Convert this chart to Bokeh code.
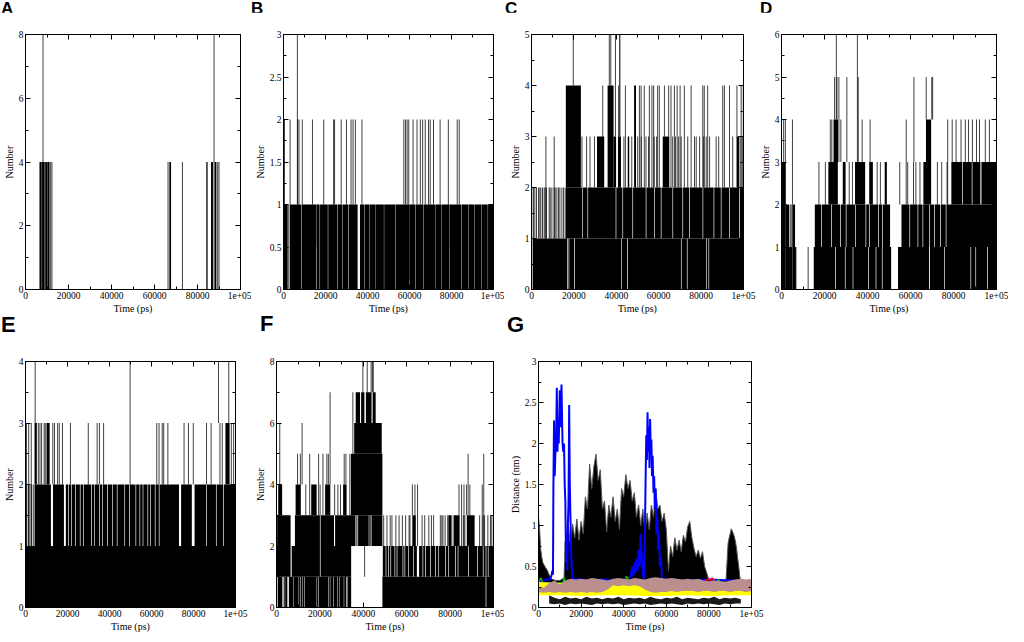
from bokeh.plotting import figure
from bokeh.layouts import column, row
from bokeh.models import Range1d, FixedTicker, LinearAxis, Div
from bokeh.embed import file_html
from bokeh.resources import INLINE

SERIF = "Liberation Serif"
SANS = "Liberation Sans"

# ---------------- shared axis data ----------------
X_TICKS = [0, 20000, 40000, 60000, 80000, 100000]
X_MINOR = [10000, 30000, 50000, 70000, 90000]
X_LABELS = ["0", "20000", "40000", "60000", "80000", "1e+05"]
X_TITLE = "Time (ps)"

Y_TICKS_8 = [0, 2, 4, 6, 8]
Y_MINOR_8 = [1, 3, 5, 7]
Y_TICKS_3 = [0, 0.5, 1, 1.5, 2, 2.5, 3]
Y_MINOR_3 = [0.25, 0.75, 1.25, 1.75, 2.25, 2.75]
Y_LABELS_3 = ["0", "0.5", "1", "1.5", "2", "2.5", "3"]
Y_TICKS_5 = [0, 1, 2, 3, 4, 5]
Y_TICKS_6 = [0, 1, 2, 3, 4, 5, 6]
Y_TICKS_4 = [0, 1, 2, 3, 4]

# ---------------- Panel A : (t_start, t_end, low, high) / (t, low, high) ----------------
A_BLOCKS = [
    (6500, 7300, 0, 4), (7700, 8800, 0, 4), (9200, 10000, 0, 4), (10400, 11200, 0, 4),
    (66900, 67700, 0, 4), (84100, 84700, 0, 4), (86300, 87200, 0, 4), (88000, 88800, 0, 4),
]
A_SPIKES = [
    (7500, 0, 4), (8150, 0, 8), (9000, 0, 4), (10200, 0, 4), (11700, 0, 4), (12300, 0, 4),
    (66300, 0, 4), (73000, 0, 4), (87700, 0, 8), (89400, 0, 4), (90000, 0, 4),
]

# ---------------- Panel B ----------------
B_BLOCKS = [
    (0, 2000, 0, 1), (3000, 8550, 0, 1), (8750, 15600, 0, 1), (15800, 17200, 0, 1),
    (17400, 21100, 0, 1), (21300, 25500, 0, 1), (25700, 27850, 0, 1), (28050, 30850, 0, 1),
    (31050, 35300, 0, 1), (36400, 38400, 0, 1), (38550, 40750, 0, 1), (40900, 43900, 0, 1),
    (44050, 47800, 0, 1), (47950, 53300, 0, 1), (53450, 60050, 0, 1), (60200, 62700, 0, 1),
    (62850, 66650, 0, 1), (66800, 72150, 0, 1), (72300, 75300, 0, 1), (75450, 78900, 0, 1),
    (79050, 84700, 0, 1), (84850, 88150, 0, 1), (88300, 91000, 0, 1), (91150, 94100, 0, 1),
    (94250, 97250, 0, 1), (97400, 100000, 0, 1),
]
B_SPIKES = [
    (2500, 0, 1), (16000, 0.5, 1), (59800, 0.1, 1), (78700, 0.5, 1), (88900, 0.5, 1),
    (470, 1, 2), (3140, 1, 2), (6600, 1, 3), (6750, 1, 2), (7380, 1, 2), (8950, 1, 2),
    (13800, 1, 2), (19150, 1, 2), (23860, 1, 2), (24330, 1, 2), (27470, 1, 2), (29980, 1, 2),
    (32180, 1, 2), (33120, 1, 2), (34220, 1, 2), (37360, 1, 2), (57300, 1, 2), (58090, 1, 2),
    (58870, 1, 2), (59650, 1, 2), (61700, 1, 2), (63580, 1, 2), (65150, 1, 2), (66250, 1, 2),
    (67500, 1, 2), (69070, 1, 2), (69860, 1, 2), (71430, 1, 2), (74570, 1, 2), (78490, 1, 2),
    (82730, 1, 2), (83670, 1, 2),
]

# ---------------- Panel C ----------------
C_BLOCKS = [
    (0, 400, 0, 1), (700, 16800, 0, 1), (17100, 17500, 0, 1), (17800, 20100, 0, 1),
    (20400, 42400, 0, 1), (42700, 45200, 0, 1), (45500, 70500, 0, 1), (70800, 73300, 0, 1),
    (73600, 82300, 0, 1), (82600, 83500, 0, 1), (83800, 100000, 0, 1),
    (16200, 24000, 1, 2), (24300, 26400, 1, 2), (26700, 39700, 1, 2), (40000, 42900, 1, 2),
    (43200, 47600, 1, 2), (47900, 53900, 1, 2), (54200, 57800, 1, 2), (58100, 61000, 1, 2),
    (61300, 66500, 1, 2), (66800, 71200, 1, 2), (71500, 74400, 1, 2), (74700, 80700, 1, 2),
    (81000, 85900, 1, 2), (86200, 89300, 1, 2), (89600, 93300, 1, 2), (93600, 98000, 1, 2),
    (98300, 100000, 1, 2),
    (16200, 23300, 2, 4), (30900, 34300, 2, 3), (35900, 38700, 2, 4), (38700, 39900, 2, 3),
    (40800, 42200, 2, 3), (41400, 41900, 3, 5), (45400, 46100, 2, 3), (48400, 49300, 2, 4),
    (61900, 65000, 2, 3), (96900, 97900, 2, 3),
]
C_SPIKES = [
    (160, 1, 2), (940, 1, 2), (1570, 1, 2), (2360, 1, 2), (3310, 1, 2), (3940, 1, 2),
    (4410, 1, 2), (5200, 1, 2), (5980, 1, 2), (6460, 1, 2), (7090, 1, 2), (8350, 1, 2),
    (8820, 1, 2), (9610, 1, 2), (10710, 1, 2), (11180, 1, 2), (11970, 1, 2), (12760, 1, 2),
    (13390, 1, 2), (14330, 1, 2), (15120, 1, 2), (15910, 1, 2),
    (19700, 4, 5), (36700, 4, 5), (37400, 4, 5), (39600, 3, 5),
    (6800, 1, 3), (10700, 1, 3), (23800, 2, 3), (26000, 2, 3), (27600, 2, 3), (29700, 2, 3),
    (43600, 2, 3), (47300, 2, 3), (50100, 2, 3), (51800, 2, 3), (54000, 2, 3), (55200, 2, 3),
    (57900, 2, 3), (59000, 2, 3), (66600, 2, 3), (67900, 2, 3), (69400, 2, 3), (70600, 2, 3),
    (73700, 2, 3), (76900, 2, 3), (77700, 2, 3), (79300, 2, 3), (81200, 2, 3), (82400, 2, 3),
    (84000, 2, 3), (87100, 2, 3), (88300, 2, 3), (94900, 2, 3), (98400, 2, 3), (99400, 2, 3),
    (33600, 2, 4), (41100, 2, 4), (44300, 2, 4), (50900, 2, 4), (51700, 2, 4), (53200, 2, 4),
    (55600, 2, 4), (56800, 2, 4), (57600, 2, 4), (59500, 2, 4), (60300, 2, 4), (62700, 3, 4),
    (64700, 3, 4), (65800, 2, 4), (67400, 2, 4), (68700, 2, 4), (70100, 2, 4), (72100, 2, 4),
    (75300, 2, 4), (80800, 2, 4), (81500, 2, 4), (83100, 2, 4), (90200, 2, 4), (91000, 2, 4),
    (93400, 2, 4), (96900, 2, 4), (98900, 2, 4), (99900, 2, 4),
]

# ---------------- Panel D ----------------
D_BLOCKS = [
    (0, 2000, 0, 3), (2000, 3500, 0, 2), (3500, 4900, 0, 1), (5000, 6300, 0, 2), (6300, 6900, 0, 1),
    (15000, 24900, 0, 1), (25200, 29500, 0, 1), (29800, 33100, 0, 1), (33400, 40300, 0, 1),
    (40600, 43800, 0, 1), (44100, 46700, 0, 1), (47000, 51000, 0, 1),
    (15500, 18500, 1, 2), (18800, 23100, 1, 2), (23400, 27300, 1, 2), (27600, 29900, 1, 2),
    (30200, 34200, 1, 2), (34500, 39100, 1, 2), (39400, 40800, 1, 2), (41100, 45000, 1, 2),
    (45300, 46800, 1, 2), (47100, 50500, 1, 2),
    (21800, 26200, 2, 3), (28500, 29800, 2, 3), (34200, 38900, 2, 3), (40800, 42500, 2, 3),
    (48000, 49000, 2, 3), (24200, 26300, 3, 4),
    (54200, 68600, 0, 1), (69000, 75600, 0, 1), (75900, 87900, 0, 1), (88200, 90200, 0, 1),
    (90500, 95600, 0, 1), (95900, 100000, 0, 1),
    (55800, 59500, 1, 2), (59800, 63300, 1, 2), (63600, 65600, 1, 2), (65900, 68700, 1, 2),
    (69000, 71000, 1, 2), (71300, 73800, 1, 2), (74100, 76400, 1, 2), (76700, 100000, 1, 2),
    (66000, 67200, 2, 3), (67200, 69600, 2, 4), (79000, 84000, 2, 3), (84300, 88500, 2, 3),
    (88800, 92500, 2, 3), (93000, 100000, 2, 3),
]
D_SPIKES = [
    (1000, 3, 4), (1800, 3, 4), (4000, 1, 2), (4500, 1, 2), (5100, 2, 4), (12400, 0, 1),
    (17400, 2, 3), (20400, 2, 3), (22700, 3, 4), (23400, 3, 4), (24700, 4, 5), (25500, 4, 6),
    (25800, 4, 5), (26700, 3, 5), (27600, 3, 4), (30400, 3, 5), (31500, 2, 3), (33000, 2, 3),
    (35300, 3, 6), (35700, 3, 5), (37500, 3, 4), (41200, 3, 4), (44500, 2, 3), (46000, 2, 3),
    (55000, 2, 3), (58000, 2, 4), (58700, 2, 3), (61400, 2, 3), (61600, 3, 5), (62500, 2, 3),
    (64400, 2, 3), (67300, 4, 5), (69900, 4, 5), (70300, 4, 5), (72500, 2, 3), (74500, 2, 3),
    (77000, 2, 3), (77300, 2, 4), (79400, 3, 4), (81200, 3, 4), (83500, 3, 4), (85500, 3, 4),
    (87000, 3, 4), (88800, 3, 4), (90700, 3, 4), (92100, 3, 4), (94800, 3, 4), (96700, 3, 4),
]

# ---------------- Panel E ----------------
E_BLOCKS = [
    (0, 100000, 0, 1),
    (4300, 12100, 1, 2), (13100, 18300, 1, 2), (19200, 20300, 1, 2), (20600, 21800, 1, 2),
    (22100, 23600, 1, 2), (23900, 25900, 1, 2), (26200, 27500, 1, 2), (27800, 31300, 1, 2),
    (31600, 32800, 1, 2), (33100, 35100, 1, 2), (35400, 36600, 1, 2), (36900, 38900, 1, 2),
    (39200, 41200, 1, 2), (41500, 43500, 1, 2), (43800, 47100, 1, 2), (47400, 49400, 1, 2),
    (49700, 52400, 1, 2), (52700, 54300, 1, 2), (54600, 55800, 1, 2), (56100, 58100, 1, 2),
    (58400, 59300, 1, 2), (59600, 61600, 1, 2), (61900, 63500, 1, 2), (63800, 73100, 1, 2),
    (74100, 79200, 1, 2), (80500, 86000, 1, 2), (86300, 90700, 1, 2), (91000, 94100, 1, 2),
    (94400, 100000, 1, 2),
    (4300, 5400, 2, 3), (10000, 11500, 2, 3), (95200, 97200, 2, 3),
]
E_SPIKES = [
    (600, 1, 2), (1400, 1, 2), (2100, 1, 2), (2900, 1, 2), (3700, 1, 2),
    (460, 1, 3), (1530, 1, 3), (2760, 1, 3), (6130, 2, 3), (6890, 2, 3), (7660, 2, 3),
    (8880, 2, 3), (9400, 2, 3), (13000, 2, 3), (13800, 2, 3), (15300, 2, 3), (16100, 2, 3),
    (17600, 2, 3), (21400, 2, 3), (29900, 2, 3), (34100, 2, 3), (35200, 2, 3), (37200, 2, 3),
    (62500, 2, 3), (63600, 2, 3), (65100, 2, 3), (65800, 2, 3), (67800, 2, 3), (75500, 2, 3),
    (77600, 2, 3), (79900, 2, 3), (86200, 2, 3), (88400, 2, 3), (92600, 2, 3), (93700, 2, 3),
    (98000, 2, 3), (99100, 2, 3),
    (4600, 3, 4), (49800, 2, 4), (91900, 3, 4), (96800, 3, 4),
]

# ---------------- Panel F ----------------
F_BLOCKS = [
    (0, 300, 0, 1), (600, 2700, 0, 1), (3300, 3800, 0, 1), (4000, 5000, 0, 1), (5700, 7600, 0, 1),
    (7800, 10200, 0, 1), (10400, 11000, 0, 1), (11200, 12000, 0, 1), (12200, 12800, 0, 1),
    (13000, 18500, 0, 1), (18700, 19300, 0, 1), (19500, 23800, 0, 1), (24000, 24600, 0, 1),
    (24800, 26100, 0, 1), (26300, 27900, 0, 1), (28100, 28800, 0, 1), (29000, 31000, 0, 1),
    (31200, 32200, 0, 1), (32700, 34400, 0, 1),
    (0, 6500, 1, 2), (7000, 20000, 1, 2), (20300, 34400, 1, 2),
    (300, 6500, 2, 3), (8500, 20000, 2, 3), (20300, 26500, 2, 3), (27000, 34400, 2, 3),
    (800, 2600, 3, 4), (8800, 11200, 3, 4), (16000, 18500, 3, 4), (22400, 24800, 3, 4),
    (30700, 32300, 3, 4),
    (34300, 36200, 2, 3), (37600, 42500, 2, 3), (43800, 48800, 2, 3), (34300, 48800, 3, 5),
    (35800, 48500, 5, 6), (36500, 38500, 6, 7), (39000, 40500, 6, 7), (41200, 43800, 6, 7),
    (44300, 45700, 6, 7),
    (48800, 96400, 0, 1), (96700, 100000, 0, 1),
    (49000, 50300, 1, 2), (50600, 51500, 1, 2), (51800, 52500, 1, 2), (52800, 54400, 1, 2),
    (54700, 55400, 1, 2), (55700, 58100, 1, 2), (58400, 59000, 1, 2), (59300, 60600, 1, 2),
    (60900, 62900, 1, 2), (63200, 64700, 1, 2), (65700, 67300, 1, 2), (67600, 68500, 1, 2),
    (68800, 70800, 1, 2), (71100, 73100, 1, 2), (73400, 74600, 1, 2), (74900, 77700, 1, 2),
    (78000, 79200, 1, 2), (79500, 82300, 1, 2), (82600, 83500, 1, 2), (83800, 88300, 1, 2),
    (88600, 92500, 1, 2), (92800, 95100, 1, 2), (95400, 96400, 1, 2), (96700, 97400, 1, 2),
    (97700, 100000, 1, 2),
    (62600, 64200, 2, 3), (79200, 80500, 2, 3), (81600, 84400, 2, 3), (87700, 91300, 2, 3),
]
F_SPIKES = [
    (1500, 4, 6), (9700, 4, 5), (11000, 4, 5), (11800, 4, 6), (13500, 3, 4), (15300, 3, 5),
    (19400, 3, 5), (20100, 3, 4), (21400, 3, 5), (23200, 4, 5), (23900, 4, 5), (24700, 4, 7),
    (26800, 3, 4), (28300, 3, 4), (29500, 3, 4), (31200, 4, 5), (32000, 4, 5), (33800, 3, 5),
    (35200, 5, 7), (39800, 7, 8), (41800, 7, 8), (43600, 7, 8), (44200, 7, 8), (44600, 7, 8),
    (36600, 2, 3), (37100, 2, 3), (42900, 2, 3), (43400, 2, 3), (40600, 1, 2.5),
    (49400, 2, 3), (50900, 2, 3), (52400, 2, 3), (53200, 2, 3), (55000, 2, 3), (56500, 2, 3),
    (58000, 2, 3), (59500, 2, 3), (61100, 2, 3), (61500, 2, 3), (67100, 2, 3), (68300, 2, 3),
    (70200, 2, 3), (71400, 2, 3), (72400, 2, 3), (75500, 2, 3), (76200, 2, 3), (76700, 2, 3),
    (77700, 2, 3), (78900, 2, 3), (80800, 2, 3), (86100, 2, 3), (86800, 2, 3), (93600, 2, 3),
    (95200, 2, 3), (95900, 2, 3), (97400, 2, 3), (98600, 2, 3), (99200, 2, 3),
    (62600, 3, 4), (63800, 3, 4), (65000, 2, 4), (84100, 3, 4), (85300, 2, 4), (86400, 2, 4),
    (87600, 3, 4), (89100, 3, 4), (94800, 2, 4), (88300, 3, 5), (95500, 2, 5),
]

# ---------------- Panel G (distances, nm) ----------------
G_BLK_T = [0, 300, 600, 1000, 1500, 2000, 3000, 4000, 5000, 6000, 8000, 10000, 12000, 12500,
           13000, 14000, 15000, 16000, 17000, 18000, 19000, 20000, 21000, 22000, 23000, 24000,
           25000, 26000, 27000, 28000, 29000, 30000, 31000, 32000, 33000, 34000, 35000, 36000,
           37000, 38000, 39000, 40000, 41000, 42000, 43000, 44000, 45000, 46000, 47000, 48000,
           49000, 50000, 51000, 52000, 53000, 54000, 55000, 56000, 57000, 58000, 59000, 60000,
           61000, 62000, 63000, 64000, 65000, 66000, 67000, 68000, 69000, 70000, 71000, 72000,
           73000, 74000, 75000, 76000, 77000, 78000, 79000, 80000, 84000, 88000, 88500, 89000,
           89500, 90000, 90500, 91000, 91500, 92000, 92500, 93000, 93500, 94000, 94500, 95000]
G_BLK_V = [1.10, 1.02, 0.92, 0.72, 0.62, 0.55, 0.50, 0.46, 0.40, 0.35, 0.33, 0.33, 0.36, 0.80,
           0.55, 1.00, 0.75, 1.02, 0.85, 1.08, 0.82, 1.05, 0.90, 1.35, 1.20, 1.75, 1.45, 1.72,
           1.87, 1.55, 1.68, 1.20, 1.30, 0.92, 1.25, 1.10, 1.35, 1.05, 1.20, 0.95, 1.45, 1.35,
           1.62, 1.45, 1.55, 1.30, 1.40, 1.10, 1.25, 1.00, 1.20, 0.90, 1.15, 0.95, 1.25, 1.10,
           1.45, 1.20, 1.25, 1.05, 1.15, 0.95, 0.45, 0.75, 0.62, 0.85, 0.70, 0.82, 0.68, 0.88,
           0.80, 0.98, 1.05, 0.85, 0.72, 0.62, 0.70, 0.60, 0.68, 0.50, 0.42, 0.33, 0.32, 0.32,
           0.55, 0.78, 0.85, 0.90, 0.96, 0.93, 0.90, 0.86, 0.80, 0.72, 0.60, 0.50, 0.38, 0.30]
G_BLK_BASE = 0.30

G_BLU_T = [0, 2000, 4000, 5000, 6000, 6500, 6800, 7000, 7300, 7600, 7900, 8300, 8600, 8900,
           9200, 9500, 9800, 10000, 10300, 10600, 10800, 11100, 11300, 11600, 12000, 12300,
           12600, 12900, 13200, 13500, 13800, 14100, 14400, 14700, 15000, 15300, 15600, 16000,
           20000, 25000, 30000, 35000, 40000, 42000, 43500, 44000, 44500, 45000, 45500, 46000,
           46500, 47000, 47500, 48000, 48500, 49000, 49500, 50000, 50300, 50600, 50900, 51200,
           51500, 51800, 52100, 52400, 52700, 53000, 53300, 53600, 54000, 54300, 54600, 55000,
           55400, 55800, 56200, 56600, 57000, 57500, 58000, 60000, 70000, 80000, 90000, 95000]
G_BLU_V = [0.30, 0.32, 0.35, 0.33, 0.38, 0.45, 0.40, 1.50, 2.28, 1.60, 1.85, 2.10, 2.68, 1.90,
           2.30, 2.00, 2.40, 2.65, 2.20, 2.50, 2.72, 2.25, 2.00, 1.90, 2.00, 1.50, 1.30, 0.60,
           0.80, 0.45, 1.00, 1.30, 2.47, 1.50, 1.10, 0.70, 0.50, 0.35, 0.34, 0.33, 0.34, 0.33,
           0.34, 0.33, 0.40, 0.50, 0.38, 0.55, 0.42, 0.60, 0.45, 0.70, 0.50, 0.90, 0.60, 0.40,
           0.35, 1.00, 1.60, 2.10, 1.80, 2.38, 1.90, 2.20, 1.70, 2.30, 1.90, 2.05, 1.60, 1.85,
           1.40, 1.60, 1.20, 1.45, 0.90, 1.10, 0.70, 0.90, 0.50, 0.60, 0.35, 0.34, 0.33, 0.34,
           0.33, 0.33]

G_RED_T = [76000, 78000, 79500, 80500, 81500, 83000, 86000]
G_RED_V = [0.30, 0.31, 0.35, 0.33, 0.36, 0.31, 0.30]
G_GRN_T = [0, 600, 1200, 1800, 11500, 12000, 12500, 40500, 41200, 41900, 42500, 83500, 84500, 85500]
G_GRN_V = [0.30, 0.34, 0.36, 0.30, 0.30, 0.37, 0.30, 0.30, 0.38, 0.36, 0.30, 0.30, 0.34, 0.30]

G_YEL_T = [0, 10000, 20000, 30000, 40000, 50000, 60000, 70000, 80000, 90000, 100000]
G_YEL_LO = [0.15, 0.15, 0.14, 0.15, 0.15, 0.14, 0.14, 0.15, 0.14, 0.15, 0.15]
G_YEL_HI = [0.31, 0.30, 0.30, 0.30, 0.30, 0.30, 0.30, 0.29, 0.30, 0.30, 0.30]

G_BRN_T = [0, 2500, 5000, 7500, 10000, 12500, 15000, 17500, 20000, 22500, 25000, 27500, 30000,
           32500, 35000, 37500, 40000, 42500, 45000, 47500, 50000, 52500, 55000, 57500, 60000,
           62500, 65000, 67500, 70000, 72500, 75000, 77500, 80000, 82500, 85000, 87500, 90000,
           92500, 95000, 97500, 100000]
G_BRN_LO = [0.19, 0.18, 0.19, 0.18, 0.19, 0.18, 0.19, 0.18, 0.19, 0.18, 0.19, 0.18, 0.19, 0.22,
            0.27, 0.26, 0.27, 0.26, 0.27, 0.26, 0.22, 0.19, 0.18, 0.19, 0.19, 0.20, 0.19, 0.20,
            0.20, 0.20, 0.19, 0.20, 0.20, 0.19, 0.20, 0.20, 0.19, 0.20, 0.20, 0.19, 0.20]
G_BRN_HI = [0.25, 0.24, 0.30, 0.33, 0.28, 0.33, 0.35, 0.34, 0.35, 0.34, 0.36, 0.35, 0.34, 0.33,
            0.35, 0.36, 0.35, 0.34, 0.36, 0.35, 0.34, 0.36, 0.37, 0.36, 0.35, 0.36, 0.35, 0.34,
            0.35, 0.34, 0.35, 0.33, 0.32, 0.33, 0.32, 0.31, 0.33, 0.34, 0.35, 0.34, 0.35]

G_BOT_T = [5000, 7500, 10000, 12500, 15000, 17500, 20000, 22500, 25000, 27500, 30000, 32500,
           35000, 37500, 40000, 42500, 45000, 47500, 50000, 52500, 55000, 57500, 60000, 62500,
           65000, 67500, 70000, 72500, 75000, 77500, 80000, 82500, 85000, 87500, 90000, 92500,
           95000]
G_BOT_LO = [0.05, 0.04, 0.05, 0.03, 0.05, 0.04, 0.05, 0.04, 0.03, 0.05, 0.04, 0.05, 0.04, 0.05,
            0.03, 0.04, 0.05, 0.04, 0.05, 0.03, 0.04, 0.05, 0.04, 0.05, 0.04, 0.03, 0.05, 0.04,
            0.05, 0.04, 0.05, 0.04, 0.03, 0.05, 0.04, 0.05, 0.05]
G_BOT_HI = [0.15, 0.12, 0.10, 0.13, 0.11, 0.12, 0.10, 0.13, 0.11, 0.12, 0.10, 0.12, 0.11, 0.13,
            0.10, 0.12, 0.11, 0.12, 0.10, 0.13, 0.11, 0.10, 0.12, 0.11, 0.13, 0.10, 0.12, 0.11,
            0.10, 0.12, 0.11, 0.13, 0.10, 0.12, 0.11, 0.12, 0.10]

# ---------------- layout (pixels) ----------------
TOP_LETTER_H = 12
TOP_FIG_H = 304
BOT_LETTER_H = 20
BOT_FIG_H = 298
GEOM = {
    "A": dict(w=251, h=TOP_FIG_H, bl=24, br=11, bt=14, bb=20, ml=1, fs=17, mt=0),
    "B": dict(w=253, h=TOP_FIG_H, bl=29, br=11, bt=19, bb=20, ml=0, fs=17, mt=0),
    "C": dict(w=252, h=TOP_FIG_H, bl=27, br=13, bt=9, bb=20, ml=1, fs=17, mt=0),
    "D": dict(w=252, h=TOP_FIG_H, bl=23, br=12, bt=22, bb=20, ml=4, fs=17, mt=0),
    "E": dict(w=251, h=BOT_FIG_H, bl=22, br=16, bt=18, bb=20, ml=1, fs=22, mt=-2),
    "F": dict(w=253, h=BOT_FIG_H, bl=22, br=11, bt=21, bb=20, ml=9, fs=22, mt=-3),
    "G": dict(w=268, h=BOT_FIG_H, bl=34, br=21, bt=25, bb=20, ml=3, fs=22, mt=-2),
}


def style_axis(ax, ticks, minor, labels=None, show=True):
    ax.ticker = FixedTicker(ticks=ticks, minor_ticks=minor)
    if labels is not None:
        ax.major_label_overrides = dict(zip(ticks, labels))
    ax.axis_line_color = "black"
    ax.major_tick_line_color = "black"
    ax.minor_tick_line_color = "black"
    ax.major_tick_in = 5
    ax.major_tick_out = 0
    ax.minor_tick_in = 3
    ax.minor_tick_out = 0
    ax.major_label_text_font = SERIF
    ax.axis_label_text_font = SERIF
    ax.axis_label_text_font_style = "normal"
    ax.axis_label_text_color = "black"
    ax.axis_label_text_font_size = "10px"
    if show:
        ax.major_label_text_font_size = "9.5px"
        ax.major_label_text_color = "black"
        ax.major_label_standoff = 2
        ax.axis_label_standoff = 1
    else:
        ax.major_label_text_font_size = "1px"
        ax.major_label_text_color = None
        ax.major_label_standoff = 0


def letter_div(letter, height):
    g = GEOM[letter]
    html = ('<div style="font-family:\'Liberation Sans\',Arial,sans-serif;font-weight:bold;'
            f'font-size:{g["fs"]}px;line-height:1;margin-left:{g["ml"]}px;margin-top:{g["mt"]}px;'
            f'color:#000">{letter}</div>')
    return Div(text=html, width=g["w"], height=height, margin=(0, 0, 0, 0))


def panel(letter, ylabel, ymax, yticks, yminor, ylabels, blocks=None, spikes=None):
    g = GEOM[letter]
    p = figure(width=g["w"], height=g["h"], x_range=Range1d(0, 100000), y_range=Range1d(0, ymax),
               output_backend="svg", toolbar_location=None, title=None,
               min_border_left=g["bl"], min_border_right=g["br"],
               min_border_top=g["bt"], min_border_bottom=g["bb"],
               x_axis_label=X_TITLE, y_axis_label=ylabel)
    p.grid.visible = False
    p.outline_line_color = "black"
    p.background_fill_color = "white"
    p.border_fill_color = "white"
    style_axis(p.xaxis[0], X_TICKS, X_MINOR, X_LABELS)
    style_axis(p.yaxis[0], yticks, yminor, ylabels)
    top = LinearAxis()
    style_axis(top, X_TICKS, X_MINOR, show=False)
    p.add_layout(top, "above")
    right = LinearAxis()
    style_axis(right, yticks, yminor, show=False)
    p.add_layout(right, "right")
    if blocks:
        t0, t1, lo, hi = zip(*blocks)
        p.quad(left=list(t0), right=list(t1), bottom=list(lo), top=list(hi),
               fill_color="black", line_color=None)
    if spikes:
        t, lo, hi = zip(*spikes)
        p.segment(x0=list(t), x1=list(t), y0=list(lo), y1=list(hi),
                  line_color="black", line_width=1, line_alpha=0.75)
    return p


pA = panel("A", "Number", 8, Y_TICKS_8, Y_MINOR_8, None, A_BLOCKS, A_SPIKES)
pB = panel("B", "Number", 3, Y_TICKS_3, Y_MINOR_3, Y_LABELS_3, B_BLOCKS, B_SPIKES)
pC = panel("C", "Number", 5, Y_TICKS_5, [0.5, 1.5, 2.5, 3.5, 4.5], None, C_BLOCKS, C_SPIKES)
pD = panel("D", "Number", 6, Y_TICKS_6, [0.5, 1.5, 2.5, 3.5, 4.5, 5.5], None, D_BLOCKS, D_SPIKES)
pE = panel("E", "Number", 4, Y_TICKS_4, [0.5, 1.5, 2.5, 3.5], None, E_BLOCKS, E_SPIKES)
pF = panel("F", "Number", 8, Y_TICKS_8, Y_MINOR_8, None, F_BLOCKS, F_SPIKES)
pG = panel("G", "Distance (nm)", 3, Y_TICKS_3, Y_MINOR_3, Y_LABELS_3)

# Panel G series, drawn in set order (black, blue, red, green, yellow, brown)
pG.varea(x=G_BOT_T, y1=G_BOT_LO, y2=G_BOT_HI, fill_color="black", fill_alpha=0.9)
pG.varea(x=G_BLK_T, y1=G_BLK_BASE, y2=G_BLK_V, fill_color="black")
pG.line(x=G_BLK_T, y=G_BLK_V, line_color="#555555", line_width=1)
pG.line(x=G_BLU_T, y=G_BLU_V, line_color="#0000ff", line_width=2)
pG.line(x=G_RED_T, y=G_RED_V, line_color="#ff0000", line_width=1.5)
pG.line(x=G_GRN_T, y=G_GRN_V, line_color="#00c000", line_width=1.5)
pG.varea(x=G_YEL_T, y1=G_YEL_LO, y2=G_YEL_HI, fill_color="#ffff00")
pG.varea(x=G_BRN_T, y1=G_BRN_LO, y2=G_BRN_HI, fill_color="#bc8f8f")

top_letters = row(*[letter_div(k, TOP_LETTER_H) for k in "ABCD"])
bot_letters = row(*[letter_div(k, BOT_LETTER_H) for k in "EFG"])
layout = column(top_letters, row(pA, pB, pC, pD), bot_letters, row(pE, pF, pG))
open("out.html", "w").write(file_html(layout, INLINE))
